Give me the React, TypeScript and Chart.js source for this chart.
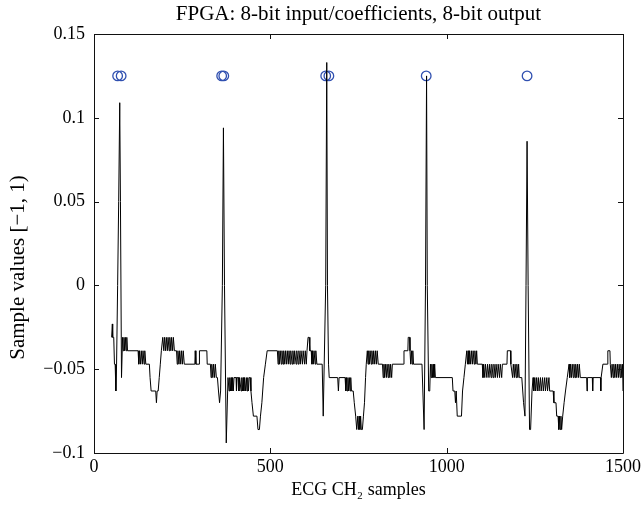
import { useEffect, useRef } from "react";
import { Chart, registerables } from "chart.js";

Chart.register(...registerables);

const chartTitle = "FPGA: 8-bit input/coefficients, 8-bit output";
const xAxisLabel = "ECG CH\u2082 samples";
const yAxisLabel = "Sample values [\u22121, 1)";

const xTicks = [0, 500, 1000, 1500];
const xTickLabels = ["0", "500", "1000", "1500"];
const yTicks = [-0.1, -0.05, 0, 0.05, 0.1, 0.15];
const yTickLabels = ["\u22120.1", "\u22120.05", "0", "0.05", "0.1", "0.15"];

// [sample, value] breakpoints of the 8-bit FPGA output, one array per beat
const beat1: [number, number][] = [
  [50, -0.031], [52, -0.023], [53, -0.031], [56, -0.031], [58, -0.047], [60, -0.047], [62, -0.063], [64, -0.047],
  [67, 0.0], [70, 0.05], [73, 0.109], [75, 0.05], [78, -0.055], [81, -0.031],
  [83, -0.039], [85, -0.031], [87, -0.039], [89, -0.031], [91, -0.039], [93, -0.031], [95, -0.039], [125, -0.039],
  [127, -0.047], [129, -0.039], [132, -0.047], [134, -0.039], [137, -0.047], [139, -0.039], [142, -0.047], [144, -0.039],
  [147, -0.047], [157, -0.047], [159, -0.055], [162, -0.063], [175, -0.063], [177, -0.070], [179, -0.063], [182, -0.063],
  [185, -0.055], [188, -0.047], [191, -0.039], [195, -0.031],
  [198, -0.039], [200, -0.031], [203, -0.039], [205, -0.031], [208, -0.039], [210, -0.031], [213, -0.039], [215, -0.031],
  [218, -0.039], [220, -0.031], [223, -0.039], [225, -0.031], [228, -0.039], [234, -0.039],
  [236, -0.047], [238, -0.039], [241, -0.047], [243, -0.039], [246, -0.047], [248, -0.039], [251, -0.047], [253, -0.039],
  [256, -0.047], [286, -0.047], [287, -0.039], [289, -0.047], [298, -0.047], [299, -0.039], [320, -0.039], [321, -0.047],
  [330, -0.047], [332, -0.055], [334, -0.047], [337, -0.055], [339, -0.047], [342, -0.055], [344, -0.047], [347, -0.055],
  [350, -0.055], [353, -0.063], [356, -0.070], [359, -0.063],
];

const beat2: [number, number][] = [
  [364, 0.0], [367, 0.094], [370, 0.0], [375, -0.094], [380, -0.055],
  [383, -0.063], [385, -0.055], [387, -0.063], [389, -0.055], [391, -0.063], [393, -0.055], [395, -0.063], [397, -0.055],
  [403, -0.055], [404, -0.063], [406, -0.055], [410, -0.055], [411, -0.063], [413, -0.055], [417, -0.063], [419, -0.055],
  [421, -0.063], [423, -0.055], [425, -0.063], [427, -0.055], [430, -0.063], [432, -0.055], [434, -0.063], [436, -0.055],
  [438, -0.063], [440, -0.055], [443, -0.055], [445, -0.063], [448, -0.070], [452, -0.078], [462, -0.078], [465, -0.086],
  [469, -0.086], [472, -0.078], [476, -0.070], [481, -0.055], [486, -0.047], [491, -0.039], [520, -0.039],
  [522, -0.047], [524, -0.039], [526, -0.047], [528, -0.039], [531, -0.047], [533, -0.039], [536, -0.047], [538, -0.039],
  [541, -0.047], [543, -0.039], [546, -0.047], [548, -0.039], [551, -0.047], [553, -0.039], [556, -0.047], [558, -0.039],
  [562, -0.047], [564, -0.039], [567, -0.047], [569, -0.039], [573, -0.047], [575, -0.039], [579, -0.047], [581, -0.039],
  [585, -0.047], [587, -0.039], [591, -0.047], [593, -0.039], [597, -0.047], [599, -0.039], [602, -0.047], [604, -0.039],
  [607, -0.031], [610, -0.031], [612, -0.039], [616, -0.039],
  [618, -0.047], [620, -0.039], [622, -0.047], [624, -0.039], [627, -0.047], [629, -0.039], [632, -0.047], [647, -0.047],
  [650, -0.078],
];

const beat3: [number, number][] = [
  [657, 0.0], [660, 0.133], [662, 0.0], [665, -0.047], [667, -0.055], [691, -0.055], [693, -0.063], [695, -0.055],
  [712, -0.055], [714, -0.063], [716, -0.055], [718, -0.063], [720, -0.055], [722, -0.063], [724, -0.055], [726, -0.063],
  [728, -0.055], [730, -0.063], [735, -0.063], [738, -0.070], [742, -0.078], [745, -0.086], [748, -0.078], [750, -0.086],
  [752, -0.078], [754, -0.086], [756, -0.078], [758, -0.086], [761, -0.086], [764, -0.078], [767, -0.070], [770, -0.055],
  [772, -0.047], [775, -0.039],
  [777, -0.047], [779, -0.039], [781, -0.047], [783, -0.039], [786, -0.047], [788, -0.039], [791, -0.047], [793, -0.039],
  [796, -0.047], [798, -0.039], [801, -0.047], [803, -0.039], [806, -0.047], [818, -0.047],
  [820, -0.055], [822, -0.047], [824, -0.055], [826, -0.047], [829, -0.055], [831, -0.047], [834, -0.055], [836, -0.047],
  [839, -0.055], [841, -0.047], [844, -0.055], [846, -0.047], [878, -0.047], [879, -0.039], [890, -0.039], [891, -0.031],
  [895, -0.031], [896, -0.039], [898, -0.047], [900, -0.039], [902, -0.047], [904, -0.039], [906, -0.047], [930, -0.047],
  [936, -0.086],
];

const beat4: [number, number][] = [
  [940, 0.0], [943, 0.125], [945, 0.0], [949, -0.063], [952, -0.063], [954, -0.047], [956, -0.055], [958, -0.047],
  [960, -0.055], [962, -0.047], [964, -0.055], [966, -0.047], [968, -0.055], [1016, -0.055], [1018, -0.063], [1023, -0.063],
  [1025, -0.070], [1027, -0.063], [1030, -0.078], [1042, -0.078], [1045, -0.063], [1049, -0.055], [1053, -0.047], [1057, -0.039],
  [1059, -0.047], [1061, -0.039], [1063, -0.047], [1065, -0.039], [1068, -0.047], [1070, -0.039], [1073, -0.047], [1075, -0.039],
  [1078, -0.047], [1080, -0.039], [1083, -0.047], [1085, -0.039], [1087, -0.047], [1101, -0.047],
  [1103, -0.055], [1105, -0.047], [1108, -0.055], [1110, -0.047], [1114, -0.055], [1116, -0.047], [1120, -0.055], [1122, -0.047],
  [1126, -0.055], [1128, -0.047], [1132, -0.055], [1134, -0.047], [1138, -0.055], [1140, -0.047], [1144, -0.055], [1146, -0.047],
  [1150, -0.055], [1152, -0.047], [1156, -0.055], [1158, -0.047], [1171, -0.047], [1172, -0.039], [1181, -0.039], [1182, -0.047],
  [1187, -0.055], [1189, -0.047], [1192, -0.055], [1194, -0.047], [1197, -0.055], [1199, -0.047], [1202, -0.055], [1204, -0.047],
  [1206, -0.055], [1213, -0.055], [1218, -0.070], [1222, -0.078],
];

const beat5: [number, number][] = [
  [1225, 0.0], [1228, 0.086], [1231, 0.0], [1235, -0.086], [1238, -0.086], [1242, -0.063],
  [1245, -0.055], [1247, -0.063], [1250, -0.055], [1252, -0.063], [1255, -0.055], [1257, -0.063], [1260, -0.055], [1262, -0.063],
  [1266, -0.055], [1268, -0.063], [1272, -0.055], [1274, -0.063], [1278, -0.055], [1280, -0.063], [1284, -0.055], [1286, -0.063],
  [1290, -0.055], [1292, -0.063], [1302, -0.063], [1304, -0.070], [1310, -0.070], [1312, -0.078], [1316, -0.078], [1318, -0.086],
  [1320, -0.078], [1322, -0.086], [1324, -0.078], [1326, -0.086], [1329, -0.078], [1333, -0.070], [1337, -0.063], [1342, -0.055],
  [1347, -0.047], [1349, -0.055], [1351, -0.047], [1354, -0.055], [1356, -0.047], [1359, -0.055], [1361, -0.047], [1364, -0.055],
  [1366, -0.047], [1369, -0.055], [1371, -0.047], [1374, -0.055], [1376, -0.047], [1379, -0.055],
  [1397, -0.055], [1398, -0.063], [1399, -0.055], [1413, -0.055], [1414, -0.063], [1415, -0.055], [1436, -0.055], [1437, -0.063],
  [1438, -0.055], [1443, -0.047], [1456, -0.047], [1457, -0.039], [1463, -0.039], [1464, -0.047],
  [1467, -0.055], [1469, -0.047], [1472, -0.055], [1474, -0.047], [1477, -0.055], [1479, -0.047], [1482, -0.055], [1484, -0.047],
  [1487, -0.055], [1489, -0.047], [1492, -0.055], [1494, -0.047], [1497, -0.055], [1499, -0.047], [1500, -0.063],
];

// detected R-peak markers
const markerSamples = [67, 77, 362, 368, 657, 666, 942, 1228];
const markerValues = [0.125, 0.125, 0.125, 0.125, 0.125, 0.125, 0.125, 0.125];

const FONT = "'Liberation Serif', 'DejaVu Serif', serif";

const framePlugin = {
  id: "matlabFrame",
  afterDatasetsDraw(chart: any) {
    const { ctx, chartArea, scales } = chart;
    const { left, right, top, bottom } = chartArea;
    const len = 5;
    ctx.save();
    ctx.strokeStyle = "#111";
    ctx.lineWidth = 1;
    ctx.beginPath();
    ctx.rect(Math.round(left) + 0.5, Math.round(top) + 0.5, Math.round(right - left), Math.round(bottom - top));
    xTicks.forEach((v) => {
      const px = Math.round(scales.x.getPixelForValue(v)) + 0.5;
      ctx.moveTo(px, bottom);
      ctx.lineTo(px, bottom - len);
      ctx.moveTo(px, top);
      ctx.lineTo(px, top + len);
    });
    yTicks.forEach((v) => {
      const py = Math.round(scales.y.getPixelForValue(v)) + 0.5;
      ctx.moveTo(left, py);
      ctx.lineTo(left + len, py);
      ctx.moveTo(right, py);
      ctx.lineTo(right - len, py);
    });
    ctx.stroke();
    ctx.restore();
  },
  afterDraw(chart: any) {
    const { ctx, chartArea } = chart;
    const { left, right, top, bottom } = chartArea;
    ctx.save();
    ctx.fillStyle = "#000";
    ctx.textAlign = "center";
    ctx.textBaseline = "middle";
    ctx.font = `21px ${FONT}`;
    ctx.fillText(chartTitle, (left + right) / 2, 14);
    ctx.translate(18, (top + bottom) / 2 + 24);
    ctx.rotate(-Math.PI / 2);
    ctx.font = `21px ${FONT}`;
    ctx.fillText(yAxisLabel, 0, 0);
    ctx.restore();
  },
};

export default function App() {
  const canvasRef = useRef<HTMLCanvasElement | null>(null);

  useEffect(() => {
    document.body.style.margin = "0";
    const canvas = canvasRef.current;
    if (!canvas) return;
    const trace = [...beat1, ...beat2, ...beat3, ...beat4, ...beat5].map(([x, y]) => ({ x, y }));
    const markers = markerSamples.map((x, i) => ({ x, y: markerValues[i] }));

    const chart = new Chart(canvas, {
      type: "line",
      data: {
        datasets: [
          {
            data: trace,
            borderColor: "#000",
            borderWidth: 1,
            pointRadius: 0,
            tension: 0,
            fill: false,
          },
          {
            type: "scatter",
            data: markers,
            showLine: false,
            pointStyle: "circle",
            pointRadius: 4.8,
            borderColor: "#3050b0",
            backgroundColor: "rgba(0,0,0,0)",
            borderWidth: 1.3,
          } as any,
        ],
      },
      options: {
        animation: false,
        responsive: false,
        devicePixelRatio: 1,
        layout: { padding: { left: 0, right: 21, top: 34, bottom: 0 } },
        plugins: {
          legend: { display: false },
          tooltip: { enabled: false },
          title: { display: false },
        },
        scales: {
          x: {
            type: "linear",
            min: 0,
            max: 1500,
            afterFit: (s: any) => {
              s.height = 59;
            },
            afterBuildTicks: (s: any) => {
              s.ticks = xTicks.map((value) => ({ value }));
            },
            grid: { display: false, drawTicks: false },
            border: { display: false },
            ticks: {
              color: "#000",
              font: { family: FONT, size: 18 },
              padding: 3,
              maxRotation: 0,
              callback: (value: any) => xTickLabels[xTicks.indexOf(Number(value))] ?? "",
            },
            title: {
              display: true,
              text: xAxisLabel,
              color: "#000",
              font: { family: FONT, size: 18 },
              padding: { top: 0, bottom: 11 },
            },
          },
          y: {
            type: "linear",
            min: -0.1,
            max: 0.15,
            afterFit: (s: any) => {
              s.width = 94;
            },
            afterBuildTicks: (s: any) => {
              s.ticks = yTicks.map((value) => ({ value }));
            },
            grid: { display: false, drawTicks: false },
            border: { display: false },
            ticks: {
              color: "#000",
              font: { family: FONT, size: 18 },
              padding: 9,
              callback: (value: any) => {
                const i = yTicks.findIndex((t) => Math.abs(t - Number(value)) < 1e-9);
                return i >= 0 ? yTickLabels[i] : "";
              },
            },
            title: { display: false },
          },
        },
      },
      plugins: [framePlugin],
    });
    return () => chart.destroy();
  }, []);

  return <canvas ref={canvasRef} width={644} height={512} style={{ display: "block" }} />;
}
